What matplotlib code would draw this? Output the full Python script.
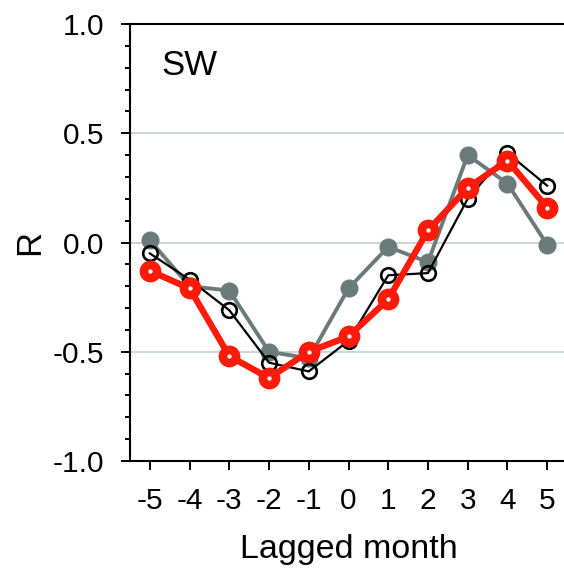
import matplotlib
matplotlib.use("Agg")
import matplotlib.pyplot as plt
from matplotlib.ticker import MultipleLocator

plt.rcParams["font.family"] = ["Liberation Sans", "DejaVu Sans"]

# lagged months
lags = [-5, -4, -3, -2, -1, 0, 1, 2, 3, 4, 5]

# correlation series
r_gray = [0.01, -0.20, -0.22, -0.50, -0.53, -0.21, -0.02, -0.09, 0.40, 0.27, -0.01]
r_black = [-0.05, -0.17, -0.31, -0.55, -0.59, -0.45, -0.15, -0.14, 0.20, 0.41, 0.26]
r_red = [-0.13, -0.21, -0.52, -0.62, -0.50, -0.43, -0.26, 0.055, 0.25, 0.375, 0.16]

y_ticks = [-1.0, -0.5, 0.0, 0.5, 1.0]
panel_label = "SW"

fig = plt.figure(figsize=(5.64, 5.70), dpi=100)
ax = fig.add_axes([130 / 564, 109 / 570, 437 / 564, 437 / 570])

# light grid lines
for yv in [-0.5, 0.0, 0.5]:
    ax.axhline(yv, color="#c8d1d1", lw=1.3, zorder=0)

ax.plot(lags, r_gray, color="#6b7b7b", lw=2.8, marker="o", ms=12,
        mfc="#6b7b7b", mec="#6b7b7b", zorder=2)
ax.plot(lags, r_black, color="black", lw=1.6, marker="o", ms=10.5,
        mfc="none", mec="black", mew=1.9, zorder=3)
ax.plot(lags, r_red, color="#ff1a0a", lw=4.6, marker="o", ms=9.5,
        mfc="white", mec="#ff1a0a", mew=6.2, zorder=4)

ax.set_xlim(-5.5, 5.5)
ax.set_ylim(-1.0, 1.0)
ax.set_xticks(lags)
ax.set_xticklabels([str(v) for v in lags])
ax.set_yticks(y_ticks)
ax.set_yticklabels(["%.1f" % v for v in y_ticks])
ax.yaxis.set_minor_locator(MultipleLocator(0.1))

ax.spines["right"].set_visible(False)
for s in ["left", "bottom", "top"]:
    ax.spines[s].set_linewidth(1.5)

ax.tick_params(axis="both", which="major", direction="out", length=6.5,
               width=1.4, labelsize=21.5, pad=12)
ax.tick_params(axis="y", which="minor", direction="out", length=3.5, width=1.4)

ax.set_xlabel("Lagged month", fontsize=24.5, labelpad=14)
ax.set_ylabel("R", fontsize=25, labelpad=5)

ax.text(0.072, 0.905, panel_label, transform=ax.transAxes, fontsize=25,
        ha="left", va="center")

fig.savefig("out.png", dpi=100)
